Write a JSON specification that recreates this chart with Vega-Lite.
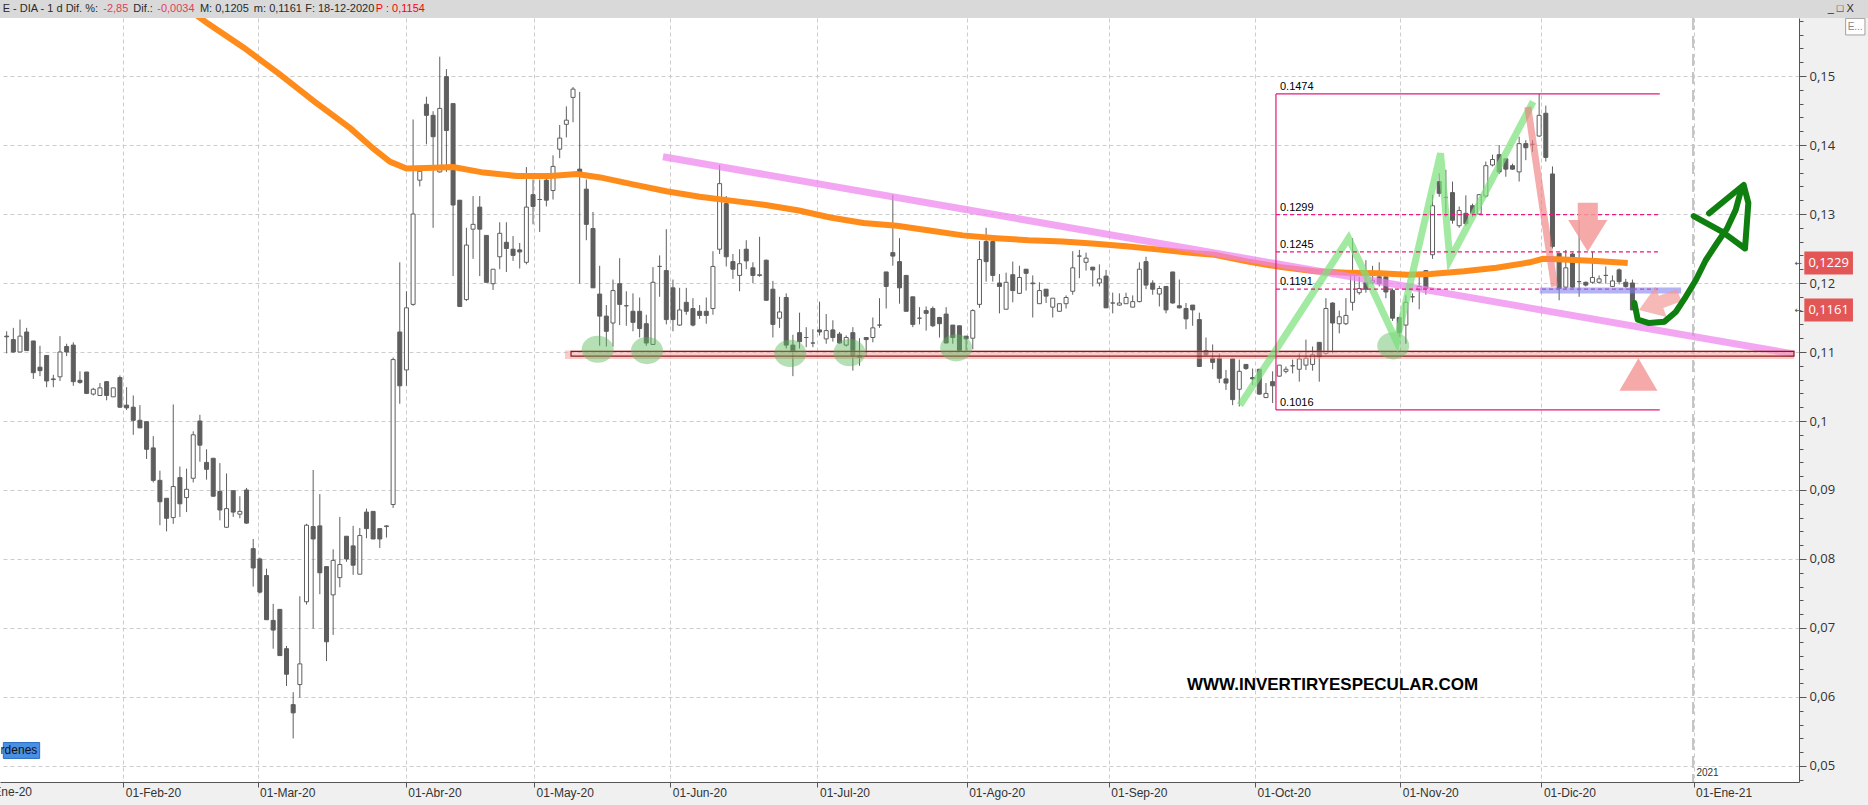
{
"$schema":"https://vega.github.io/schema/vega-lite/v6.json",
"width":1799,"height":764,
"autosize":{"type":"none"},
"padding":{"left":0,"top":18,"right":69,"bottom":23},
"background":"#f0f0f0",
"config":{"view":{"fill":"#ffffff","stroke":null},"font":"Liberation Sans"},
"datasets":{
"candles":[
{"k":0,"o":0.1123,"h":0.1130,"l":0.1098,"c":0.1122},
{"k":1,"o":0.1118,"h":0.1135,"l":0.1099,"c":0.1100},
{"k":2,"o":0.1100,"h":0.1147,"l":0.1100,"c":0.1123},
{"k":3,"o":0.1129,"h":0.1135,"l":0.1102,"c":0.1102},
{"k":4,"o":0.1116,"h":0.1116,"l":0.1061,"c":0.1070},
{"k":5,"o":0.1078,"h":0.1109,"l":0.1065,"c":0.1073},
{"k":6,"o":0.1095,"h":0.1095,"l":0.1049,"c":0.1058},
{"k":7,"o":0.1061,"h":0.1067,"l":0.1049,"c":0.1060},
{"k":8,"o":0.1064,"h":0.1123,"l":0.1058,"c":0.1100},
{"k":9,"o":0.1108,"h":0.1112,"l":0.1094,"c":0.1100},
{"k":10,"o":0.1110,"h":0.1114,"l":0.1051,"c":0.1057},
{"k":11,"o":0.1059,"h":0.1072,"l":0.1054,"c":0.1056},
{"k":12,"o":0.1071,"h":0.1071,"l":0.1039,"c":0.1040},
{"k":13,"o":0.1039,"h":0.1048,"l":0.1037,"c":0.1046},
{"k":14,"o":0.1037,"h":0.1055,"l":0.1037,"c":0.1048},
{"k":15,"o":0.1057,"h":0.1058,"l":0.1030,"c":0.1037},
{"k":16,"o":0.1035,"h":0.1048,"l":0.1035,"c":0.1048},
{"k":17,"o":0.1063,"h":0.1066,"l":0.1019,"c":0.1020},
{"k":18,"o":0.1023,"h":0.1049,"l":0.1016,"c":0.1019},
{"k":19,"o":0.1020,"h":0.1037,"l":0.0980,"c":0.1001},
{"k":20,"o":0.1001,"h":0.1023,"l":0.0990,"c":0.0990},
{"k":21,"o":0.0999,"h":0.0999,"l":0.0945,"c":0.0959},
{"k":22,"o":0.0961,"h":0.0978,"l":0.0911,"c":0.0914},
{"k":23,"o":0.0914,"h":0.0928,"l":0.0849,"c":0.0883},
{"k":24,"o":0.0888,"h":0.0888,"l":0.0840,"c":0.0859},
{"k":25,"o":0.0860,"h":0.1024,"l":0.0851,"c":0.0905},
{"k":26,"o":0.0918,"h":0.0934,"l":0.0861,"c":0.0880},
{"k":27,"o":0.0889,"h":0.0931,"l":0.0868,"c":0.0901},
{"k":28,"o":0.0917,"h":0.0985,"l":0.0911,"c":0.0980},
{"k":29,"o":0.1000,"h":0.1009,"l":0.0941,"c":0.0965},
{"k":30,"o":0.0940,"h":0.0959,"l":0.0915,"c":0.0930},
{"k":31,"o":0.0946,"h":0.0946,"l":0.0890,"c":0.0891},
{"k":32,"o":0.0898,"h":0.0939,"l":0.0856,"c":0.0871},
{"k":33,"o":0.0846,"h":0.0924,"l":0.0845,"c":0.0873},
{"k":34,"o":0.0899,"h":0.0899,"l":0.0861,"c":0.0868},
{"k":35,"o":0.0865,"h":0.0891,"l":0.0859,"c":0.0869},
{"k":36,"o":0.0900,"h":0.0903,"l":0.0851,"c":0.0852},
{"k":37,"o":0.0815,"h":0.0829,"l":0.0760,"c":0.0787},
{"k":38,"o":0.0800,"h":0.0802,"l":0.0750,"c":0.0752},
{"k":39,"o":0.0776,"h":0.0786,"l":0.0712,"c":0.0712},
{"k":40,"o":0.0711,"h":0.0735,"l":0.0670,"c":0.0697},
{"k":41,"o":0.0727,"h":0.0727,"l":0.0660,"c":0.0660},
{"k":42,"o":0.0670,"h":0.0674,"l":0.0616,"c":0.0633},
{"k":43,"o":0.0589,"h":0.0607,"l":0.0540,"c":0.0577},
{"k":44,"o":0.0618,"h":0.0746,"l":0.0599,"c":0.0648},
{"k":45,"o":0.0738,"h":0.0851,"l":0.0734,"c":0.0849},
{"k":46,"o":0.0847,"h":0.0929,"l":0.0699,"c":0.0829},
{"k":47,"o":0.0848,"h":0.0894,"l":0.0749,"c":0.0780},
{"k":48,"o":0.0789,"h":0.0789,"l":0.0652,"c":0.0680},
{"k":49,"o":0.0748,"h":0.0814,"l":0.0690,"c":0.0798},
{"k":50,"o":0.0773,"h":0.0861,"l":0.0759,"c":0.0792},
{"k":51,"o":0.0833,"h":0.0833,"l":0.0796,"c":0.0800},
{"k":52,"o":0.0819,"h":0.0848,"l":0.0777,"c":0.0791},
{"k":53,"o":0.0778,"h":0.0845,"l":0.0778,"c":0.0834},
{"k":54,"o":0.0868,"h":0.0873,"l":0.0830,"c":0.0844},
{"k":55,"o":0.0869,"h":0.0869,"l":0.0829,"c":0.0829},
{"k":56,"o":0.0844,"h":0.0844,"l":0.0816,"c":0.0829},
{"k":57,"o":0.0847,"h":0.0849,"l":0.0831,"c":0.0848},
{"k":58,"o":0.0879,"h":0.1092,"l":0.0874,"c":0.1089},
{"k":59,"o":0.1129,"h":0.1230,"l":0.1025,"c":0.1051},
{"k":60,"o":0.1074,"h":0.1188,"l":0.1051,"c":0.1164},
{"k":61,"o":0.1169,"h":0.1437,"l":0.1167,"c":0.1300},
{"k":62,"o":0.1349,"h":0.1368,"l":0.1340,"c":0.1362},
{"k":63,"o":0.1459,"h":0.1470,"l":0.1401,"c":0.1443},
{"k":64,"o":0.1443,"h":0.1449,"l":0.1280,"c":0.1412},
{"k":65,"o":0.1361,"h":0.1528,"l":0.1360,"c":0.1453},
{"k":66,"o":0.1499,"h":0.1510,"l":0.1361,"c":0.1421},
{"k":67,"o":0.1460,"h":0.1460,"l":0.1210,"c":0.1313},
{"k":68,"o":0.1320,"h":0.1320,"l":0.1166,"c":0.1166},
{"k":69,"o":0.1176,"h":0.1280,"l":0.1174,"c":0.1255},
{"k":70,"o":0.1278,"h":0.1326,"l":0.1235,"c":0.1285},
{"k":71,"o":0.1310,"h":0.1326,"l":0.1210,"c":0.1278},
{"k":72,"o":0.1269,"h":0.1269,"l":0.1201,"c":0.1201},
{"k":73,"o":0.1199,"h":0.1220,"l":0.1190,"c":0.1220},
{"k":74,"o":0.1238,"h":0.1288,"l":0.1220,"c":0.1272},
{"k":75,"o":0.1259,"h":0.1288,"l":0.1216,"c":0.1250},
{"k":76,"o":0.1249,"h":0.1268,"l":0.1232,"c":0.1240},
{"k":77,"o":0.1248,"h":0.1258,"l":0.1221,"c":0.1245},
{"k":78,"o":0.1230,"h":0.1368,"l":0.1227,"c":0.1310},
{"k":79,"o":0.1328,"h":0.1350,"l":0.1285,"c":0.1311},
{"k":80,"o":0.1321,"h":0.1350,"l":0.1274,"c":0.1321},
{"k":81,"o":0.1349,"h":0.1358,"l":0.1311,"c":0.1320},
{"k":82,"o":0.1334,"h":0.1385,"l":0.1321,"c":0.1369},
{"k":83,"o":0.1394,"h":0.1429,"l":0.1381,"c":0.1410},
{"k":84,"o":0.1430,"h":0.1456,"l":0.1411,"c":0.1436},
{"k":85,"o":0.1469,"h":0.1484,"l":0.1433,"c":0.1481},
{"k":86,"o":0.1365,"h":0.1477,"l":0.1199,"c":0.1356},
{"k":87,"o":0.1336,"h":0.1350,"l":0.1262,"c":0.1285},
{"k":88,"o":0.1279,"h":0.1303,"l":0.1193,"c":0.1193},
{"k":89,"o":0.1184,"h":0.1225,"l":0.1109,"c":0.1152},
{"k":90,"o":0.1152,"h":0.1168,"l":0.1108,"c":0.1130},
{"k":91,"o":0.1142,"h":0.1205,"l":0.1108,"c":0.1189},
{"k":92,"o":0.1199,"h":0.1236,"l":0.1139,"c":0.1169},
{"k":93,"o":0.1167,"h":0.1188,"l":0.1138,"c":0.1167},
{"k":94,"o":0.1159,"h":0.1185,"l":0.1130,"c":0.1143},
{"k":95,"o":0.1159,"h":0.1179,"l":0.1121,"c":0.1134},
{"k":96,"o":0.1141,"h":0.1154,"l":0.1109,"c":0.1113},
{"k":97,"o":0.1111,"h":0.1223,"l":0.1111,"c":0.1201},
{"k":98,"o":0.1224,"h":0.1240,"l":0.1180,"c":0.1224},
{"k":99,"o":0.1218,"h":0.1278,"l":0.1140,"c":0.1147},
{"k":100,"o":0.1193,"h":0.1205,"l":0.1130,"c":0.1147},
{"k":101,"o":0.1139,"h":0.1193,"l":0.1138,"c":0.1161},
{"k":102,"o":0.1172,"h":0.1193,"l":0.1154,"c":0.1159},
{"k":103,"o":0.1163,"h":0.1178,"l":0.1137,"c":0.1139},
{"k":104,"o":0.1159,"h":0.1168,"l":0.1148,"c":0.1153},
{"k":105,"o":0.1159,"h":0.1179,"l":0.1141,"c":0.1153},
{"k":106,"o":0.1163,"h":0.1246,"l":0.1154,"c":0.1224},
{"k":107,"o":0.1249,"h":0.1371,"l":0.1242,"c":0.1344},
{"k":108,"o":0.1315,"h":0.1326,"l":0.1224,"c":0.1238},
{"k":109,"o":0.1231,"h":0.1242,"l":0.1206,"c":0.1220},
{"k":110,"o":0.1211,"h":0.1249,"l":0.1188,"c":0.1228},
{"k":111,"o":0.1249,"h":0.1262,"l":0.1220,"c":0.1232},
{"k":112,"o":0.1222,"h":0.1230,"l":0.1200,"c":0.1211},
{"k":113,"o":0.1211,"h":0.1267,"l":0.1209,"c":0.1212},
{"k":114,"o":0.1233,"h":0.1234,"l":0.1174,"c":0.1175},
{"k":115,"o":0.1191,"h":0.1203,"l":0.1121,"c":0.1140},
{"k":116,"o":0.1149,"h":0.1180,"l":0.1135,"c":0.1158},
{"k":117,"o":0.1179,"h":0.1185,"l":0.1105,"c":0.1110},
{"k":118,"o":0.1110,"h":0.1125,"l":0.1065,"c":0.1101},
{"k":119,"o":0.1128,"h":0.1157,"l":0.1105,"c":0.1115},
{"k":120,"o":0.1121,"h":0.1136,"l":0.1107,"c":0.1121},
{"k":121,"o":0.1113,"h":0.1133,"l":0.1107,"c":0.1113},
{"k":122,"o":0.1132,"h":0.1173,"l":0.1124,"c":0.1129},
{"k":123,"o":0.1119,"h":0.1155,"l":0.1112,"c":0.1131},
{"k":124,"o":0.1132,"h":0.1146,"l":0.1115,"c":0.1121},
{"k":125,"o":0.1126,"h":0.1129,"l":0.1112,"c":0.1113},
{"k":126,"o":0.1110,"h":0.1124,"l":0.1108,"c":0.1121},
{"k":127,"o":0.1128,"h":0.1136,"l":0.1073,"c":0.1095},
{"k":128,"o":0.1095,"h":0.1120,"l":0.1080,"c":0.1092},
{"k":129,"o":0.1121,"h":0.1121,"l":0.1094,"c":0.1118},
{"k":130,"o":0.1121,"h":0.1150,"l":0.1114,"c":0.1135},
{"k":131,"o":0.1139,"h":0.1178,"l":0.1135,"c":0.1139},
{"k":132,"o":0.1216,"h":0.1216,"l":0.1163,"c":0.1195},
{"k":133,"o":0.1244,"h":0.1328,"l":0.1225,"c":0.1239},
{"k":134,"o":0.1231,"h":0.1265,"l":0.1170,"c":0.1193},
{"k":135,"o":0.1211,"h":0.1211,"l":0.1159,"c":0.1159},
{"k":136,"o":0.1180,"h":0.1180,"l":0.1136,"c":0.1140},
{"k":137,"o":0.1149,"h":0.1165,"l":0.1140,"c":0.1149},
{"k":138,"o":0.1160,"h":0.1166,"l":0.1131,"c":0.1156},
{"k":139,"o":0.1163,"h":0.1166,"l":0.1136,"c":0.1138},
{"k":140,"o":0.1150,"h":0.1151,"l":0.1121,"c":0.1141},
{"k":141,"o":0.1155,"h":0.1165,"l":0.1113,"c":0.1113},
{"k":142,"o":0.1139,"h":0.1139,"l":0.1112,"c":0.1121},
{"k":143,"o":0.1138,"h":0.1138,"l":0.1102,"c":0.1102},
{"k":144,"o":0.1123,"h":0.1123,"l":0.1102,"c":0.1119},
{"k":145,"o":0.1120,"h":0.1162,"l":0.1104,"c":0.1160},
{"k":146,"o":0.1169,"h":0.1261,"l":0.1164,"c":0.1234},
{"k":147,"o":0.1260,"h":0.1280,"l":0.1202,"c":0.1231},
{"k":148,"o":0.1260,"h":0.1261,"l":0.1202,"c":0.1211},
{"k":149,"o":0.1200,"h":0.1213,"l":0.1156,"c":0.1195},
{"k":150,"o":0.1162,"h":0.1215,"l":0.1162,"c":0.1201},
{"k":151,"o":0.1212,"h":0.1231,"l":0.1172,"c":0.1189},
{"k":152,"o":0.1185,"h":0.1225,"l":0.1184,"c":0.1208},
{"k":153,"o":0.1220,"h":0.1220,"l":0.1189,"c":0.1214},
{"k":154,"o":0.1200,"h":0.1211,"l":0.1150,"c":0.1199},
{"k":155,"o":0.1170,"h":0.1201,"l":0.1170,"c":0.1189},
{"k":156,"o":0.1191,"h":0.1191,"l":0.1171,"c":0.1181},
{"k":157,"o":0.1165,"h":0.1178,"l":0.1150,"c":0.1178},
{"k":158,"o":0.1159,"h":0.1170,"l":0.1159,"c":0.1170},
{"k":159,"o":0.1170,"h":0.1182,"l":0.1163,"c":0.1179},
{"k":160,"o":0.1188,"h":0.1246,"l":0.1183,"c":0.1222},
{"k":161,"o":0.1239,"h":0.1248,"l":0.1207,"c":0.1239},
{"k":162,"o":0.1230,"h":0.1244,"l":0.1218,"c":0.1236},
{"k":163,"o":0.1223,"h":0.1223,"l":0.1195,"c":0.1219},
{"k":164,"o":0.1200,"h":0.1227,"l":0.1195,"c":0.1206},
{"k":165,"o":0.1210,"h":0.1219,"l":0.1164,"c":0.1164},
{"k":166,"o":0.1171,"h":0.1186,"l":0.1156,"c":0.1171},
{"k":167,"o":0.1168,"h":0.1185,"l":0.1167,"c":0.1171},
{"k":168,"o":0.1170,"h":0.1186,"l":0.1170,"c":0.1179},
{"k":169,"o":0.1165,"h":0.1182,"l":0.1165,"c":0.1173},
{"k":170,"o":0.1173,"h":0.1230,"l":0.1172,"c":0.1220},
{"k":171,"o":0.1231,"h":0.1238,"l":0.1191,"c":0.1197},
{"k":172,"o":0.1200,"h":0.1204,"l":0.1183,"c":0.1191},
{"k":173,"o":0.1184,"h":0.1196,"l":0.1166,"c":0.1192},
{"k":174,"o":0.1195,"h":0.1195,"l":0.1156,"c":0.1161},
{"k":175,"o":0.1216,"h":0.1216,"l":0.1170,"c":0.1171},
{"k":176,"o":0.1167,"h":0.1205,"l":0.1163,"c":0.1164},
{"k":177,"o":0.1163,"h":0.1171,"l":0.1133,"c":0.1148},
{"k":178,"o":0.1168,"h":0.1168,"l":0.1138,"c":0.1161},
{"k":179,"o":0.1147,"h":0.1157,"l":0.1079,"c":0.1079},
{"k":180,"o":0.1102,"h":0.1121,"l":0.1094,"c":0.1096},
{"k":181,"o":0.1091,"h":0.1111,"l":0.1075,"c":0.1085},
{"k":182,"o":0.1091,"h":0.1098,"l":0.1055,"c":0.1062},
{"k":183,"o":0.1061,"h":0.1074,"l":0.1045,"c":0.1055},
{"k":184,"o":0.1090,"h":0.1090,"l":0.1023,"c":0.1031},
{"k":185,"o":0.1046,"h":0.1089,"l":0.1021,"c":0.1072},
{"k":186,"o":0.1082,"h":0.1082,"l":0.1074,"c":0.1076},
{"k":187,"o":0.1063,"h":0.1076,"l":0.1052,"c":0.1061},
{"k":188,"o":0.1075,"h":0.1075,"l":0.1038,"c":0.1039},
{"k":189,"o":0.1034,"h":0.1055,"l":0.1033,"c":0.1040},
{"k":190,"o":0.1057,"h":0.1072,"l":0.1026,"c":0.1051},
{"k":191,"o":0.1065,"h":0.1081,"l":0.1064,"c":0.1081},
{"k":192,"o":0.1072,"h":0.1079,"l":0.1069,"c":0.1075},
{"k":193,"o":0.1080,"h":0.1089,"l":0.1069,"c":0.1080},
{"k":194,"o":0.1075,"h":0.1098,"l":0.1057,"c":0.1090},
{"k":195,"o":0.1081,"h":0.1118,"l":0.1074,"c":0.1091},
{"k":196,"o":0.1082,"h":0.1108,"l":0.1073,"c":0.1096},
{"k":197,"o":0.1114,"h":0.1114,"l":0.1057,"c":0.1093},
{"k":198,"o":0.1098,"h":0.1178,"l":0.1096,"c":0.1163},
{"k":199,"o":0.1171,"h":0.1172,"l":0.1098,"c":0.1142},
{"k":200,"o":0.1141,"h":0.1160,"l":0.1127,"c":0.1151},
{"k":201,"o":0.1141,"h":0.1178,"l":0.1139,"c":0.1153},
{"k":202,"o":0.1172,"h":0.1265,"l":0.1160,"c":0.1212},
{"k":203,"o":0.1186,"h":0.1209,"l":0.1183,"c":0.1192},
{"k":204,"o":0.1201,"h":0.1233,"l":0.1186,"c":0.1191},
{"k":205,"o":0.1201,"h":0.1225,"l":0.1198,"c":0.1204},
{"k":206,"o":0.1209,"h":0.1230,"l":0.1195,"c":0.1199},
{"k":207,"o":0.1209,"h":0.1209,"l":0.1178,"c":0.1187},
{"k":208,"o":0.1189,"h":0.1192,"l":0.1145,"c":0.1149},
{"k":209,"o":0.1150,"h":0.1151,"l":0.1122,"c":0.1128},
{"k":210,"o":0.1139,"h":0.1182,"l":0.1112,"c":0.1172},
{"k":211,"o":0.1180,"h":0.1185,"l":0.1172,"c":0.1180},
{"k":212,"o":0.1190,"h":0.1211,"l":0.1162,"c":0.1195},
{"k":213,"o":0.1218,"h":0.1219,"l":0.1183,"c":0.1192},
{"k":214,"o":0.1241,"h":0.1328,"l":0.1235,"c":0.1312},
{"k":215,"o":0.1347,"h":0.1359,"l":0.1325,"c":0.1330},
{"k":216,"o":0.1324,"h":0.1364,"l":0.1296,"c":0.1324},
{"k":217,"o":0.1331,"h":0.1347,"l":0.1286,"c":0.1291},
{"k":218,"o":0.1283,"h":0.1311,"l":0.1280,"c":0.1305},
{"k":219,"o":0.1301,"h":0.1327,"l":0.1283,"c":0.1286},
{"k":220,"o":0.1312,"h":0.1315,"l":0.1296,"c":0.1301},
{"k":221,"o":0.1300,"h":0.1329,"l":0.1299,"c":0.1328},
{"k":222,"o":0.1326,"h":0.1376,"l":0.1324,"c":0.1370},
{"k":223,"o":0.1371,"h":0.1386,"l":0.1369,"c":0.1379},
{"k":224,"o":0.1386,"h":0.1400,"l":0.1358,"c":0.1361},
{"k":225,"o":0.1380,"h":0.1380,"l":0.1354,"c":0.1365},
{"k":226,"o":0.1370,"h":0.1373,"l":0.1364,"c":0.1365},
{"k":227,"o":0.1361,"h":0.1412,"l":0.1347,"c":0.1402},
{"k":228,"o":0.1402,"h":0.1407,"l":0.1378,"c":0.1396},
{"k":229,"o":0.1401,"h":0.1407,"l":0.1390,"c":0.1401},
{"k":230,"o":0.1413,"h":0.1474,"l":0.1412,"c":0.1443},
{"k":231,"o":0.1446,"h":0.1457,"l":0.1376,"c":0.1382},
{"k":232,"o":0.1358,"h":0.1369,"l":0.1250,"c":0.1253},
{"k":233,"o":0.1243,"h":0.1243,"l":0.1175,"c":0.1192},
{"k":234,"o":0.1194,"h":0.1248,"l":0.1191,"c":0.1222},
{"k":235,"o":0.1242,"h":0.1244,"l":0.1192,"c":0.1194},
{"k":236,"o":0.1202,"h":0.1291,"l":0.1180,"c":0.1202},
{"k":237,"o":0.1201,"h":0.1202,"l":0.1195,"c":0.1197},
{"k":238,"o":0.1201,"h":0.1245,"l":0.1199,"c":0.1208},
{"k":239,"o":0.1201,"h":0.1211,"l":0.1199,"c":0.1206},
{"k":240,"o":0.1211,"h":0.1224,"l":0.1199,"c":0.1211},
{"k":241,"o":0.1195,"h":0.1211,"l":0.1194,"c":0.1203},
{"k":242,"o":0.1219,"h":0.1221,"l":0.1198,"c":0.1202},
{"k":243,"o":0.1201,"h":0.1206,"l":0.1193,"c":0.1195},
{"k":244,"o":0.1200,"h":0.1205,"l":0.1161,"c":0.1161}
],
"ma":[
{"k":24.0,"v":0.1620},{"k":30.2,"v":0.1576},{"k":35.6,"v":0.1541},{"k":40.9,"v":0.1503},{"k":46.2,"v":0.1463},{"k":51.6,"v":0.1424},{"k":55.0,"v":0.1395},{"k":57.5,"v":0.1376},{"k":60.0,"v":0.1366},{"k":64.2,"v":0.1367},{"k":67.0,"v":0.1368},{"k":71.6,"v":0.1360},{"k":76.6,"v":0.1355},{"k":81.6,"v":0.1355},{"k":85.6,"v":0.1358},{"k":89.1,"v":0.1353},{"k":94.0,"v":0.1343},{"k":99.0,"v":0.1333},{"k":104.0,"v":0.1325},{"k":109.0,"v":0.1319},{"k":113.9,"v":0.1313},{"k":118.9,"v":0.1305},{"k":123.6,"v":0.1295},{"k":128.6,"v":0.1287},{"k":133.6,"v":0.1283},{"k":138.5,"v":0.1276},{"k":143.5,"v":0.1269},{"k":148.5,"v":0.1265},{"k":153.4,"v":0.1262},{"k":158.5,"v":0.1260},{"k":163.4,"v":0.1257},{"k":168.4,"v":0.1253},{"k":173.4,"v":0.1248},{"k":178.4,"v":0.1243},{"k":181.3,"v":0.1241},{"k":186.3,"v":0.1231},{"k":191.3,"v":0.1223},{"k":196.3,"v":0.1217},{"k":201.2,"v":0.1215},{"k":206.2,"v":0.1214},{"k":210.2,"v":0.1212},{"k":213.7,"v":0.1213},{"k":218.7,"v":0.1217},{"k":223.6,"v":0.1222},{"k":228.6,"v":0.1230},{"k":230.6,"v":0.1235},{"k":233.6,"v":0.1234},{"k":238.5,"v":0.1232},{"k":243.3,"v":0.1229}
],
"trend":[{"k":98.5,"v":0.1383},{"k":268.25,"v":0.1097}],
"zig":[{"k":185.1,"v":0.1023},{"k":201.4,"v":0.1265},{"k":208.6,"v":0.1115},{"k":215.2,"v":0.1388},{"k":216.6,"v":0.1234},{"k":229.1,"v":0.1463}],
"salmon":[{"k":228.3,"v":0.1455},{"k":232.3,"v":0.1195}],
"ell":[{"k":88.7,"v":0.1104},{"k":96.1,"v":0.1102},{"k":117.6,"v":0.1098},{"k":126.5,"v":0.1099},{"k":142.5,"v":0.1106},{"k":208.1,"v":0.1109}],
"garrow":[
{"part":"s","i":0,"k":244.3,"v":0.1171},{"part":"s","i":1,"k":244.8,"v":0.1147},{"part":"s","i":2,"k":246.5,"v":0.1142},{"part":"s","i":3,"k":248.8,"v":0.1144},{"part":"s","i":4,"k":250.5,"v":0.1158},{"part":"s","i":5,"k":252.0,"v":0.1180},{"part":"s","i":6,"k":253.5,"v":0.1204},{"part":"s","i":7,"k":255.0,"v":0.1233},{"part":"s","i":8,"k":256.7,"v":0.1258},{"part":"s","i":9,"k":258.2,"v":0.1279},{"part":"s","i":10,"k":259.5,"v":0.1306},{"part":"s","i":11,"k":260.4,"v":0.1338},
{"part":"h","i":0,"k":255.5,"v":0.1301},{"part":"h","i":1,"k":260.7,"v":0.1342},{"part":"h","i":2,"k":261.4,"v":0.1316},{"part":"h","i":3,"k":260.9,"v":0.1250},{"part":"h","i":4,"k":257.5,"v":0.1274},{"part":"h","i":5,"k":253.2,"v":0.1297}
]
},
"layer":[
{"data":{"name":"candles"},"mark":{"type":"rule","color":"#5e5e5e","strokeWidth":1},
 "encoding":{
  "x":{"field":"k","type":"quantitative","scale":{"domain":[-0.25,268.25],"nice":false,"zero":false},
   "axis":{"title":null,"orient":"bottom","tickCount":200,"values":[17.51,37.66,59.9,79.15,99.6,121.69,144.08,165.42,187.36,209.15,230.34,253.18],
    "labelExpr":"['01-Feb-20','01-Mar-20','01-Abr-20','01-May-20','01-Jun-20','01-Jul-20','01-Ago-20','01-Sep-20','01-Oct-20','01-Nov-20','01-Dic-20','01-Ene-21'][indexof([17.51,37.66,59.9,79.15,99.6,121.69,144.08,165.42,187.36,209.15,230.34,253.18], datum.value)]",
    "grid":true,"gridColor":"#cccccc","gridDash":[4,3],"gridWidth":1,
    "tickSize":5,"tickColor":"#555555","domainColor":"#555555","domainWidth":1,
    "labelAlign":"left","labelBaseline":"top","labelPadding":0,"labelOffset":2,
    "labelFont":"Liberation Sans","labelFontSize":12,"labelColor":"#333333","labelOverlap":false,"labelFlush":false}},
  "y":{"field":"l","type":"quantitative","scale":{"domain":[0.047681,0.158406],"nice":false,"zero":false},
   "axis":{"title":null,"orient":"right","tickCount":200,
    "values":[0.048,0.05,0.052,0.054,0.056,0.058,0.06,0.062,0.064,0.066,0.068,0.07,0.072,0.074,0.076,0.078,0.08,0.082,0.084,0.086,0.088,0.09,0.092,0.094,0.096,0.098,0.1,0.102,0.104,0.106,0.108,0.11,0.112,0.114,0.116,0.118,0.12,0.122,0.124,0.126,0.128,0.13,0.132,0.134,0.136,0.138,0.14,0.142,0.144,0.146,0.148,0.15,0.152,0.154,0.156,0.158],
    "labelExpr":"abs(datum.value*100 - round(datum.value*100)) < 0.01 ? replace(format(datum.value, '.2~f'), '.', ',') : ''",
    "grid":true,"gridColor":"#cccccc","gridDash":[4,3],
    "gridOpacity":{"condition":{"test":"abs(datum.value*100 - round(datum.value*100)) < 0.01","value":1},"value":0},
    "tickSize":{"condition":{"test":"abs(datum.value*100 - round(datum.value*100)) < 0.01","value":7},"value":4},
    "tickColor":"#555555","domainColor":"#555555","labelPadding":3,
    "labelFont":"Open Sans","labelFontSize":13,"labelColor":"#333333","labelOverlap":false,"labelFlush":false}},
  "y2":{"field":"h"}}},
{"data":{"values":[{"k":253.1}]},"mark":{"type":"rule","stroke":"#c4c4c4","strokeWidth":2,"strokeDash":[12,6]},
 "encoding":{"x":{"field":"k","type":"quantitative"}}},
{"data":{"name":"candles"},"mark":{"type":"bar","size":4,"stroke":"#5e5e5e","strokeWidth":1},
 "encoding":{
  "x":{"field":"k","type":"quantitative"},
  "y":{"field":"o","type":"quantitative"},
  "y2":{"field":"c"},
  "fill":{"condition":{"test":"datum.c < datum.o","value":"#5e5e5e"},"value":"#ffffff"}}},
{"data":{"name":"ma"},"mark":{"type":"line","stroke":"#ff8c1a","strokeWidth":6,"clip":true},
 "encoding":{"x":{"field":"k","type":"quantitative"},"y":{"field":"v","type":"quantitative"}}},
{"data":{"name":"trend"},"mark":{"type":"line","stroke":"#ee82ee","strokeWidth":7,"opacity":0.7,"clip":true},
 "encoding":{"x":{"field":"k","type":"quantitative"},"y":{"field":"v","type":"quantitative"}}},
{"data":{"values":[{"a":83.8,"b":268.25,"lo":0.1090,"hi":0.1102}]},"mark":{"type":"rect","fill":"#f4a0a0","opacity":0.55},
 "encoding":{"x":{"field":"a","type":"quantitative"},"x2":{"field":"b"},"y":{"field":"lo","type":"quantitative"},"y2":{"field":"hi"}}},
{"data":{"values":[{"a":84.7,"b":268.25,"lo":0.1094,"hi":0.1101}]},"mark":{"type":"rect","fill":"#ffffff","fillOpacity":0,"stroke":"#8b1a1a","strokeWidth":1.2},
 "encoding":{"x":{"field":"a","type":"quantitative"},"x2":{"field":"b"},"y":{"field":"lo","type":"quantitative"},"y2":{"field":"hi"}}},
{"data":{"name":"ell"},"mark":{"type":"point","shape":"M -1 0 C -1 -0.47 -0.55 -0.85 0 -0.85 C 0.55 -0.85 1 -0.47 1 0 C 1 0.47 0.55 0.85 0 0.85 C -0.55 0.85 -1 0.47 -1 0 Z","filled":true,"fill":"#5cb85c","opacity":0.45,"size":1024,"strokeWidth":0},
 "encoding":{"x":{"field":"k","type":"quantitative"},"y":{"field":"v","type":"quantitative"}}},
{"data":{"name":"zig"},"mark":{"type":"line","stroke":"#7be07b","strokeWidth":7,"opacity":0.7},
 "encoding":{"x":{"field":"k","type":"quantitative"},"y":{"field":"v","type":"quantitative"}}},
{"data":{"name":"salmon"},"mark":{"type":"line","stroke":"#f08080","strokeWidth":7,"opacity":0.65},
 "encoding":{"x":{"field":"k","type":"quantitative"},"y":{"field":"v","type":"quantitative"}}},
{"data":{"values":[{"a":190.5,"b":248.1,"v":0.1474},{"a":190.5,"b":248.1,"v":0.1016}]},"mark":{"type":"rule","stroke":"#e6177a","strokeWidth":1.2},
 "encoding":{"x":{"field":"a","type":"quantitative"},"x2":{"field":"b"},"y":{"field":"v","type":"quantitative"}}},
{"data":{"values":[{"a":190.5,"b":248.1,"v":0.1299},{"a":190.5,"b":248.1,"v":0.1245},{"a":190.5,"b":248.1,"v":0.1191}]},"mark":{"type":"rule","stroke":"#f0157f","strokeWidth":1.2,"strokeDash":[4,3]},
 "encoding":{"x":{"field":"a","type":"quantitative"},"x2":{"field":"b"},"y":{"field":"v","type":"quantitative"}}},
{"data":{"values":[{"a":190.5,"lo":0.1016,"hi":0.1474}]},"mark":{"type":"rule","stroke":"#e6177a","strokeWidth":1.2},
 "encoding":{"x":{"field":"a","type":"quantitative"},"y":{"field":"lo","type":"quantitative"},"y2":{"field":"hi"}}},
{"data":{"values":[{"a":190.5,"v":0.1474,"t":"0.1474"},{"a":190.5,"v":0.1299,"t":"0.1299"},{"a":190.5,"v":0.1245,"t":"0.1245"},{"a":190.5,"v":0.1191,"t":"0.1191"},{"a":190.5,"v":0.1016,"t":"0.1016"}]},
 "mark":{"type":"text","align":"left","baseline":"bottom","dx":4,"dy":-2,"font":"Liberation Sans","fontSize":11,"color":"#000000"},
 "encoding":{"x":{"field":"a","type":"quantitative"},"y":{"field":"v","type":"quantitative"},"text":{"field":"t"}}},
{"data":{"values":[{"a":230.1,"b":251.3,"v":0.1189}]},"mark":{"type":"rule","stroke":"#8080ee","strokeWidth":6,"opacity":0.6},
 "encoding":{"x":{"field":"a","type":"quantitative"},"x2":{"field":"b"},"y":{"field":"v","type":"quantitative"}}},
{"data":{"values":[{"k":237.3,"v":0.12809}]},"mark":{"type":"point","shape":"M -0.41 -1 L 0.41 -1 L 0.41 -0.29 L 0.8 -0.29 L 0 1 L -0.8 -0.29 L -0.41 -0.29 Z","filled":true,"fill":"#f49a9a","opacity":0.85,"size":2401,"strokeWidth":0},
 "encoding":{"x":{"field":"k","type":"quantitative"},"y":{"field":"v","type":"quantitative"}}},
{"data":{"values":[{"k":244.9,"v":0.10674}]},"mark":{"type":"point","shape":"M 0 -0.85 L 1 0.85 L -1 0.85 Z","filled":true,"fill":"#f49a9a","opacity":0.85,"size":1444,"strokeWidth":0},
 "encoding":{"x":{"field":"k","type":"quantitative"},"y":{"field":"v","type":"quantitative"}}},
{"data":{"values":[{"k":248.0,"v":0.11715}]},"mark":{"type":"point","shape":"M -1 0 L 0.1 -0.75 L 0.1 -0.3 L 1 -0.3 L 1 0.3 L 0.1 0.3 L 0.1 0.75 Z","filled":true,"fill":"#f49a9a","opacity":0.7,"size":1849,"angle":-20,"strokeWidth":0},
 "encoding":{"x":{"field":"k","type":"quantitative"},"y":{"field":"v","type":"quantitative"}}},
{"data":{"name":"garrow"},"mark":{"type":"line","stroke":"#0f7f0f","strokeWidth":6,"strokeCap":"round","strokeJoin":"round"},
 "encoding":{"x":{"field":"k","type":"quantitative"},"y":{"field":"v","type":"quantitative"},"detail":{"field":"part"},"order":{"field":"i"}}},
{"data":{"values":[{"k":199.0,"v":0.0617,"t":"WWW.INVERTIRYESPECULAR.COM"}]},"mark":{"type":"text","align":"center","baseline":"middle","font":"Liberation Sans","fontWeight":"bold","fontSize":17,"color":"#000000"},
 "encoding":{"x":{"field":"k","type":"quantitative"},"y":{"field":"v","type":"quantitative"},"text":{"field":"t"}}},
{"data":{"values":[{"a":269.8,"b":277.1,"lo":0.12123,"hi":0.12457},{"a":269.8,"b":277.1,"lo":0.11443,"hi":0.11777}]},"mark":{"type":"rect","fill":"#e35656"},
 "encoding":{"x":{"field":"a","type":"quantitative"},"x2":{"field":"b"},"y":{"field":"lo","type":"quantitative"},"y2":{"field":"hi"}}},
{"data":{"values":[{"k":273.45,"v":0.1229,"t":"0,1229"},{"k":273.45,"v":0.1161,"t":"0,1161"}]},"mark":{"type":"text","align":"center","baseline":"middle","font":"Open Sans","fontSize":13,"color":"#ffffff"},
 "encoding":{"x":{"field":"k","type":"quantitative"},"y":{"field":"v","type":"quantitative"},"text":{"field":"t"}}},
{"data":{"values":[{"k":268.9,"v":0.1229,"t":"←"},{"k":268.9,"v":0.1161,"t":"←"}]},"mark":{"type":"text","align":"center","baseline":"middle","font":"DejaVu Sans","fontSize":9,"color":"#555555"},
 "encoding":{"x":{"field":"k","type":"quantitative"},"y":{"field":"v","type":"quantitative"},"text":{"field":"t"}}},
{"data":{"values":[{"k":3.8,"v":0.046956,"t":"01-Ene-20"}]},"mark":{"type":"text","align":"right","baseline":"top","font":"Liberation Sans","fontSize":12,"color":"#333333"},
 "encoding":{"x":{"field":"k","type":"quantitative"},"y":{"field":"v","type":"quantitative"},"text":{"field":"t"}}},
{"data":{"values":[{"a":276.0,"b":278.9,"lo":0.15595,"hi":0.15835}]},"mark":{"type":"rect","fill":"#ffffff","stroke":"#a0a0a0","strokeWidth":1},
 "encoding":{"x":{"field":"a","type":"quantitative"},"x2":{"field":"b"},"y":{"field":"lo","type":"quantitative"},"y2":{"field":"hi"}}},
{"data":{"values":[{"k":276.3,"v":0.15715,"t":"E..."}]},"mark":{"type":"text","align":"left","baseline":"middle","font":"Liberation Sans","fontSize":10,"color":"#888888"},
 "encoding":{"x":{"field":"k","type":"quantitative"},"y":{"field":"v","type":"quantitative"},"text":{"field":"t"}}},
{"data":{"values":[{"a":-3,"b":283,"lo":0.1584,"hi":0.1615}]},"mark":{"type":"rect","fill":"#d9d9d9"},
 "encoding":{"x":{"field":"a","type":"quantitative"},"x2":{"field":"b"},"y":{"field":"lo","type":"quantitative"},"y2":{"field":"hi"}}},
{"data":{"values":[{"k":-0.6,"v":0.15964,"t":"E - DIA -  1 d  Dif. %:"},{"k":19.0,"v":0.15964,"t":"Dif.:"},{"k":29.0,"v":0.15964,"t":"M: 0,1205"},{"k":37.1,"v":0.15964,"t":"m: 0,1161"},{"k":44.8,"v":0.15964,"t":"F: 18-12-2020"},{"k":273.3,"v":0.15964,"t":"_ □ X"}]},
 "mark":{"type":"text","align":"left","baseline":"middle","font":"Liberation Sans","fontSize":11,"color":"#2a2a2a"},
 "encoding":{"x":{"field":"k","type":"quantitative"},"y":{"field":"v","type":"quantitative"},"text":{"field":"t"}}},
{"data":{"values":[{"k":14.5,"v":0.15964,"t":"-2,85"},{"k":22.6,"v":0.15964,"t":"-0,0034"}]},
 "mark":{"type":"text","align":"left","baseline":"middle","font":"Liberation Sans","fontSize":11,"color":"#e0405a"},
 "encoding":{"x":{"field":"k","type":"quantitative"},"y":{"field":"v","type":"quantitative"},"text":{"field":"t"}}},
{"data":{"values":[{"k":55.4,"v":0.15964,"t":"P : 0,1154"}]},
 "mark":{"type":"text","align":"left","baseline":"middle","font":"Liberation Sans","fontSize":11,"color":"#ff0000"},
 "encoding":{"x":{"field":"k","type":"quantitative"},"y":{"field":"v","type":"quantitative"},"text":{"field":"t"}}},
{"data":{"values":[{"k":253.6,"v":0.0490,"t":"2021"}]},"mark":{"type":"text","align":"left","baseline":"middle","font":"Liberation Sans","fontSize":10,"color":"#333333"},
 "encoding":{"x":{"field":"k","type":"quantitative"},"y":{"field":"v","type":"quantitative"},"text":{"field":"t"}}},
{"data":{"values":[{"a":-0.5,"b":4.95,"lo":0.0511,"hi":0.0534}]},"mark":{"type":"rect","fill":"#4a90e2","stroke":"#2a70c2","strokeWidth":1},
 "encoding":{"x":{"field":"a","type":"quantitative"},"x2":{"field":"b"},"y":{"field":"lo","type":"quantitative"},"y2":{"field":"hi"}}},
{"data":{"values":[{"k":4.6,"v":0.05225,"t":"rdenes"}]},"mark":{"type":"text","align":"right","baseline":"middle","font":"Liberation Sans","fontSize":12,"color":"#111111"},
 "encoding":{"x":{"field":"k","type":"quantitative"},"y":{"field":"v","type":"quantitative"},"text":{"field":"t"}}}
]
}
